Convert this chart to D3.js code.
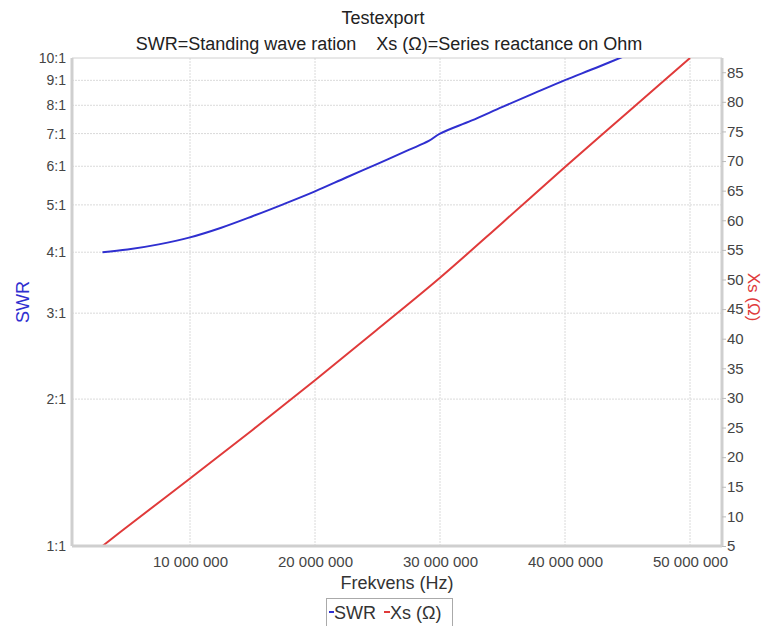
<!DOCTYPE html>
<html>
<head>
<meta charset="utf-8">
<script src="https://cdn.jsdelivr.net/npm/d3@7/dist/d3.min.js"></script>
<style>
  html, body { margin: 0; padding: 0; background: #fff; }
  text { font-family: "Liberation Sans", Arial, sans-serif; }
</style>
</head>
<body>
<svg id="chart" width="765" height="626"></svg>
<script>
// ---- data ----
const swrFreqMHz = [3, 5, 7.5, 10, 12.5, 15, 17.5, 20, 22.5, 25, 27.5, 29.1, 30, 32.5, 35, 37.5, 40, 42.5, 45];
const swrValues  = [4.0, 4.05, 4.15, 4.29, 4.49, 4.74, 5.02, 5.33, 5.69, 6.07, 6.48, 6.76, 7.0, 7.44, 7.94, 8.46, 9.01, 9.55, 10.15];
const xsFreqMHz  = [3, 5, 10, 15, 20, 25, 30, 35, 40, 45, 50];
const xsValues   = [5.0, 8.3, 16.4, 24.6, 33.0, 41.6, 50.3, 59.6, 69.0, 78.2, 87.4];
const swrTicks   = [1, 2, 3, 4, 5, 6, 7, 8, 9, 10];
const swrTickLabels = ["1:1", "2:1", "3:1", "4:1", "5:1", "6:1", "7:1", "8:1", "9:1", "10:1"];
const xsTicks    = [5, 10, 15, 20, 25, 30, 35, 40, 45, 50, 55, 60, 65, 70, 75, 80, 85];
const freqTicks  = [10e6, 20e6, 30e6, 40e6, 50e6];
const title = "Testexport";
const subtitle = "SWR=Standing wave ration    Xs (\u03A9)=Series reactance on Ohm";

// ---- layout ----
const svg = d3.select("#chart");
const L = 72, R = 722, T = 58, B = 546;
const blue = "#2f2fd0", red = "#e03a3a";

const x = d3.scaleLinear().domain([0.56e6, 52.56e6]).range([L, R]);
const yL = d3.scaleLog().domain([1, 10]).range([B, T]);
const yR = d3.scaleLinear().domain([5, 87.4]).range([B, T]);

// titles
svg.append("text").attr("x", 383).attr("y", 24).attr("text-anchor", "middle")
  .attr("font-size", 18).attr("fill", "#222").text(title);
svg.append("text").attr("x", 389).attr("y", 50).attr("text-anchor", "middle")
  .attr("font-size", 18).attr("fill", "#222").attr("xml:space", "preserve").style("white-space", "pre").text(subtitle);

// grid
const grid = svg.append("g");
grid.selectAll("line.h").data(swrTicks.filter(d => d > 1 && d < 10)).enter().append("line")
  .attr("x1", L).attr("x2", R).attr("y1", d => yL(d)).attr("y2", d => yL(d))
  .attr("stroke", "#dadada").attr("stroke-dasharray", "2,1");
grid.selectAll("line.v").data(freqTicks).enter().append("line")
  .attr("y1", T).attr("y2", B).attr("x1", d => x(d)).attr("x2", d => x(d))
  .attr("stroke", "#dadada").attr("stroke-dasharray", "2,1");

// top border
svg.append("line").attr("x1", L).attr("x2", R).attr("y1", T).attr("y2", T).attr("stroke", "#d0d0d0");

// clip
svg.append("clipPath").attr("id", "clip").append("rect")
  .attr("x", L).attr("y", T).attr("width", R - L).attr("height", B - T);

// lines
const swrData = swrFreqMHz.map((f, i) => [f * 1e6, swrValues[i]]);
const xsData = xsFreqMHz.map((f, i) => [f * 1e6, xsValues[i]]);
svg.append("path").datum(xsData).attr("clip-path", "url(#clip)")
  .attr("fill", "none").attr("stroke", red).attr("stroke-width", 2)
  .attr("d", d3.line().x(d => x(d[0])).y(d => yR(d[1])).curve(d3.curveCatmullRom.alpha(0.5)));
svg.append("path").datum(swrData).attr("clip-path", "url(#clip)")
  .attr("fill", "none").attr("stroke", blue).attr("stroke-width", 2)
  .attr("d", d3.line().x(d => x(d[0])).y(d => yL(d[1])).curve(d3.curveCatmullRom.alpha(0.5)));

// axes
const fmt = d => d3.format(",")(d).replace(/,/g, " ");
const axL = svg.append("g").attr("transform", `translate(${L},0)`)
  .call(d3.axisLeft(yL).tickValues(swrTicks).tickFormat((d, i) => swrTickLabels[i]).tickSize(0).tickPadding(6));
const axR = svg.append("g").attr("transform", `translate(${R},0)`)
  .call(d3.axisRight(yR).tickValues(xsTicks).tickSize(4).tickPadding(1));
const axB = svg.append("g").attr("transform", `translate(0,${B})`)
  .call(d3.axisBottom(x).tickValues(freqTicks).tickFormat(fmt).tickSize(0).tickPadding(10));
[axL, axR, axB].forEach(g => {
  g.select(".domain").attr("stroke", "#cfcfcf").attr("stroke-width", 3);
  g.selectAll(".tick line").attr("stroke", "#bbb");
  g.selectAll(".tick text").attr("font-size", 15).attr("fill", "#444")
    .attr("font-family", "'Liberation Sans', Arial, sans-serif");
});
axL.selectAll(".tick text").attr("font-size", 14);
axL.select(".domain").attr("d", `M0,${B}V${T}`);
axR.select(".domain").attr("d", `M0,${B}V${T}`);
axB.select(".domain").attr("d", `M${L},0H${R}`);

// axis titles
svg.append("text").attr("x", 397).attr("y", 589).attr("text-anchor", "middle")
  .attr("font-size", 18).attr("fill", "#333").text("Frekvens (Hz)");
svg.append("text").attr("transform", "translate(29,302) rotate(-90)").attr("text-anchor", "middle")
  .attr("font-size", 18).attr("fill", blue).text("SWR");
svg.append("text").attr("transform", "translate(748,297) rotate(90)").attr("text-anchor", "middle")
  .attr("font-size", 17).attr("fill", red).text("Xs (\u03A9)");

// legend
const lg = svg.append("g");
lg.append("rect").attr("x", 326.5).attr("y", 598.5).attr("width", 126).attr("height", 32)
  .attr("fill", "#fff").attr("stroke", "#aaa");
lg.append("line").attr("x1", 329).attr("x2", 334).attr("y1", 612).attr("y2", 612).attr("stroke", blue).attr("stroke-width", 2);
lg.append("text").attr("x", 334).attr("y", 619).attr("font-size", 18).attr("fill", "#333").text("SWR");
lg.append("line").attr("x1", 384).attr("x2", 390).attr("y1", 612).attr("y2", 612).attr("stroke", red).attr("stroke-width", 2);
lg.append("text").attr("x", 390).attr("y", 619).attr("font-size", 18).attr("fill", "#333").text("Xs (\u03A9)");
</script>
</body>
</html>
